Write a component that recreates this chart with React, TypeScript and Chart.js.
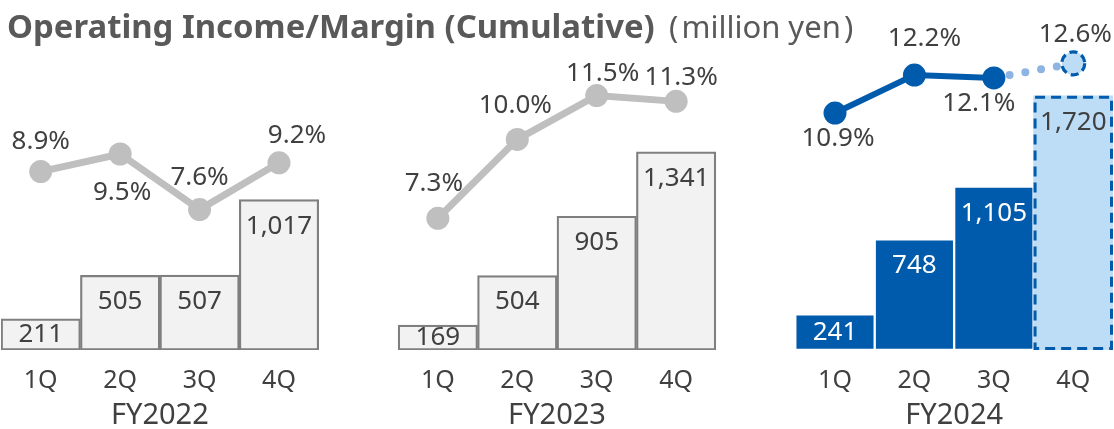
import { useEffect, useRef } from 'react';
import { Chart, registerables } from 'chart.js';

Chart.register(...registerables);

// ---------- data ----------
const quarterLabels = ['1Q', '2Q', '3Q', '4Q'];
const fiscalYears = ['FY2022', 'FY2023', 'FY2024'];
const income2022 = [211, 505, 507, 1017];
const income2023 = [169, 504, 905, 1341];
const income2024 = [241, 748, 1105];
const incomeForecast2024 = 1720;
const margin2022 = [8.9, 9.5, 7.6, 9.2];
const margin2023 = [7.3, 10.0, 11.5, 11.3];
const margin2024 = [10.9, 12.2, 12.1];
const marginForecast2024 = 12.6;
const titleText = 'Operating Income/Margin (Cumulative)';
const unitText = '(\u200Amillion yen\u200A)';

// ---------- label placement (styling) ----------
const marginLabelOffsets2022 = [[0, -30], [2, 39], [0, -32], [18, -27]];
const marginLabelOffsets2023 = [[-4, -35], [-2, -34], [6, -22], [5, -24]];
const marginLabelOffsets2024 = [[3, 26], [10, -36], [-15, 26]];
const marginForecastOffset = [2, -29];

const FONT = "'Noto Sans', 'Noto Sans CJK JP', sans-serif";
const TEXT = '#404040';
const TITLE = '#595959';
const GRAY_FILL = '#f2f2f2';
const GRAY_BORDER = '#7f7f7f';
const GRAY_LINE = '#bfbfbf';
const BLUE = '#005bac';
const LIGHT_BLUE = '#bddcf6';
const DOT_BLUE = '#8db4e2';

// ---------- slot tables built from the data ----------
const gap = [''];
const slotLabels = [...quarterLabels, ...gap, ...quarterLabels, ...gap, ...quarterLabels];
const nulls = (n: number) => Array(n).fill(null);
const incomeSlots = [...income2022, null, ...income2023, null, ...income2024, incomeForecast2024];
const margin2022Slots = [...margin2022, ...nulls(10)];
const margin2023Slots = [...nulls(5), ...margin2023, ...nulls(5)];
const margin2024Slots = [...nulls(10), ...margin2024, null];
const marginForecastSlots = [...nulls(12), margin2024[margin2024.length - 1], marginForecast2024];
const FORECAST_INDEX = 13;

const barFill = incomeSlots.map((_, i) => (i < 9 ? GRAY_FILL : i === FORECAST_INDEX ? LIGHT_BLUE : BLUE));
const barBorder = incomeSlots.map((_, i) => (i < 9 ? GRAY_BORDER : '#ffffff'));
const barBorderWidth = incomeSlots.map((_, i) => (i < 9 ? 2.2 : i === FORECAST_INDEX ? 0 : 1.5));
const barTextColor = incomeSlots.map((_, i) => (i >= 10 && i < FORECAST_INDEX ? '#ffffff' : TEXT));

const fmt = (v: number) => v.toLocaleString('en-US');

const decorPlugin = {
  id: 'decor',
  afterDatasetsDraw(chart: any) {
    const ctx = chart.ctx as CanvasRenderingContext2D;
    const xScale = chart.scales.x;
    ctx.save();

    // bar labels + forecast dashed outline
    const barMeta = chart.getDatasetMeta(0);
    barMeta.data.forEach((el: any, i: number) => {
      const v = incomeSlots[i];
      if (v == null) return;
      const { x, y, base, width } = el.getProps(['x', 'y', 'base', 'width'], true);
      if (i === FORECAST_INDEX) {
        ctx.save();
        ctx.strokeStyle = BLUE;
        ctx.lineWidth = 3;
        ctx.setLineDash([10, 6]);
        ctx.strokeRect(x - width / 2 + 1.5, y + 1.5, width - 3, base - y - 3);
        ctx.restore();
      }
      ctx.font = `26px ${FONT}`;
      ctx.fillStyle = barTextColor[i];
      ctx.textAlign = 'center';
      ctx.textBaseline = 'middle';
      const ly = Math.min(y + 26.5, (y + base) / 2);
      ctx.fillText(fmt(v), x, ly);
    });

    // forecast marker (dashed circle)
    const fMeta = chart.getDatasetMeta(4);
    const fp = fMeta.data[FORECAST_INDEX];
    if (fp) {
      ctx.save();
      ctx.beginPath();
      ctx.arc(fp.x, fp.y, 11.5, 0, Math.PI * 2);
      ctx.fillStyle = LIGHT_BLUE;
      ctx.fill();
      ctx.strokeStyle = BLUE;
      ctx.lineWidth = 3.2;
      ctx.setLineDash([8, 4.5]);
      ctx.stroke();
      ctx.restore();
    }

    // margin labels
    ctx.font = `26px ${FONT}`;
    ctx.fillStyle = TEXT;
    ctx.textAlign = 'center';
    ctx.textBaseline = 'middle';
    const drawGroup = (dsIndex: number, start: number, values: number[], offsets: number[][]) => {
      const meta = chart.getDatasetMeta(dsIndex);
      values.forEach((v, k) => {
        const p = meta.data[start + k];
        if (!p) return;
        ctx.fillText(v.toFixed(1) + '%', p.x + offsets[k][0], p.y + offsets[k][1]);
      });
    };
    drawGroup(1, 0, margin2022, marginLabelOffsets2022);
    drawGroup(2, 5, margin2023, marginLabelOffsets2023);
    drawGroup(3, 10, margin2024, marginLabelOffsets2024);
    if (fp) ctx.fillText(marginForecast2024.toFixed(1) + '%', fp.x + marginForecastOffset[0], fp.y + marginForecastOffset[1]);

    // fiscal year group labels
    ctx.font = `29px ${FONT}`;
    fiscalYears.forEach((fy, g) => {
      const a = xScale.getPixelForValue(g * 5 + 1);
      const b = xScale.getPixelForValue(g * 5 + 2);
      ctx.fillText(fy, (a + b) / 2, 416);
    });

    // title
    ctx.textAlign = 'left';
    ctx.textBaseline = 'alphabetic';
    ctx.fillStyle = TITLE;
    ctx.font = `bold 32px ${FONT}`;
    const w0 = ctx.measureText(titleText).width;
    const titleSize = (32 * 648) / w0;
    ctx.font = `bold ${titleSize.toFixed(2)}px ${FONT}`;
    ctx.fillText(titleText, 7, 38);
    ctx.font = `31px ${FONT}`;
    ctx.fillText(unitText, 669, 38);

    ctx.restore();
  },
};

export default function App() {
  const ref = useRef<HTMLCanvasElement>(null);
  useEffect(() => {
    document.body.style.margin = '0';
    const canvas = ref.current;
    if (!canvas) return;
    const lineBase = {
      type: 'line' as const,
      yAxisID: 'y1',
      pointBorderWidth: 0,
      tension: 0,
      spanGaps: false,
    };
    const chart = new Chart(canvas, {
      type: 'bar',
      data: {
        labels: slotLabels,
        datasets: [
          {
            type: 'bar',
            data: incomeSlots,
            yAxisID: 'y',
            backgroundColor: barFill,
            borderColor: barBorder,
            borderWidth: barBorderWidth,
            borderSkipped: false,
            barPercentage: 1,
            categoryPercentage: 1,
            order: 10,
          } as any,
          {
            ...lineBase,
            data: margin2022Slots,
            borderColor: GRAY_LINE,
            borderWidth: 7,
            pointRadius: 11.5,
            pointBackgroundColor: GRAY_LINE,
            order: 0,
          } as any,
          {
            ...lineBase,
            data: margin2023Slots,
            borderColor: GRAY_LINE,
            borderWidth: 7,
            pointRadius: 11.5,
            pointBackgroundColor: GRAY_LINE,
            order: 0,
          } as any,
          {
            ...lineBase,
            data: margin2024Slots,
            borderColor: BLUE,
            borderWidth: 6,
            pointRadius: 11.5,
            pointBackgroundColor: BLUE,
            order: 0,
          } as any,
          {
            ...lineBase,
            data: marginForecastSlots,
            borderColor: DOT_BLUE,
            borderWidth: 8,
            borderDash: [0, 16],
            borderCapStyle: 'round',
            pointRadius: 0,
            order: 1,
          } as any,
        ],
      },
      options: {
        animation: false,
        responsive: false,
        events: [],
        font: { family: FONT },
        layout: { autoPadding: false, padding: { left: 1, right: 1, top: 0, bottom: 0 } },
        plugins: {
          legend: { display: false },
          tooltip: { enabled: false },
          title: { display: false },
        },
        scales: {
          x: {
            grid: { display: false, drawTicks: false },
            border: { display: false },
            ticks: {
              font: { family: FONT, size: 25 },
              color: TEXT,
              padding: 16,
              autoSkip: false,
              maxRotation: 0,
            },
            afterFit: (s: any) => {
              s.height = 79;
            },
          },
          y: { display: false, min: 0, max: 2368 },
          y1: { display: false, min: 2.797, max: 14.767 },
        },
      } as any,
      plugins: [decorPlugin],
    });
    return () => chart.destroy();
  }, []);
  return (
    <div style={{ width: 1114, height: 429 }}>
      <canvas ref={ref} width={1114} height={429} style={{ display: 'block' }} />
    </div>
  );
}
